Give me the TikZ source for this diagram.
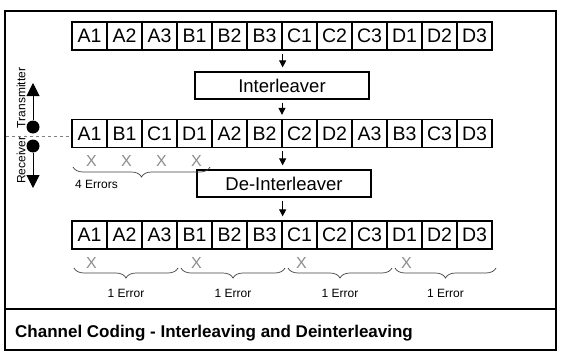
\documentclass[tikz,border=0pt]{standalone}
\usepackage{fontspec}
\setmainfont{Liberation Sans}
\usetikzlibrary{arrows.meta,decorations.pathreplacing,calc}
\begin{document}
\begin{tikzpicture}[x=1pt,y=-1pt,
 cell/.style={draw,line width=1.3pt,minimum width=35pt,minimum height=28pt,inner sep=0pt,font=\fontsize{19.5}{20}\selectfont},
 proc/.style={draw,line width=1.3pt,minimum width=174pt,minimum height=27pt,inner sep=0pt,font=\fontsize{18.5}{20}\selectfont},
 flow/.style={line width=1pt,-{Triangle[width=7pt,length=7pt]},shorten <=3pt,shorten >=4pt},
 bigarrow/.style={line width=1pt,-{Triangle[width=13pt,length=13pt]}},
 dot/.style={circle,fill,inner sep=0pt,minimum size=13pt},
 errmark/.style={text=black!45,font=\fontsize{16}{16}\selectfont,inner sep=0pt},
 brc/.style={decorate,decoration={brace,mirror,amplitude=10pt},line width=0.7pt,draw=black!75},
 errlabel/.style={font=\fontsize{12}{13}\selectfont,inner sep=0pt},
 side/.style={font=\fontsize{12}{13}\selectfont,rotate=90,inner sep=0pt}]
\useasboundingbox (0,0) rectangle (564,353);
% frame
\draw[line width=1.3pt] (5,11) rectangle (556,350);
\draw[line width=1.3pt] (5,309) -- (556,309);
\node[anchor=west,font=\bfseries\fontsize{17}{20}\selectfont,inner sep=0pt] (cap) at (15,333) {Channel Coding - Interleaving and Deinterleaving};
% rows
\foreach \t [count=\i] in {A1,A2,A3,B1,B2,B3,C1,C2,C3,D1,D2,D3}
  \node[cell] (r1-\i) at ({72+35*(\i-0.5)},36) {\t};
\foreach \t [count=\i] in {A1,B1,C1,D1,A2,B2,C2,D2,A3,B3,C3,D3}
  \node[cell] (r2-\i) at ({72+35*(\i-0.5)},133.5) {\t};
\foreach \t [count=\i] in {A1,A2,A3,B1,B2,B3,C1,C2,C3,D1,D2,D3}
  \node[cell] (r3-\i) at ({72+35*(\i-0.5)},235) {\t};
% processing boxes
\node[proc] (il) at (282,85.5) {Interleaver};
\node[proc] (deil) at (284,183.5) {De-Interleaver};
% flow arrows
\draw[flow] (r1-6.south east) -- (r1-6.south east |- il.north);
\draw[flow] (il.south) -- (il.south |- r2-6.north);
\draw[flow] (r2-6.south east) -- (r2-6.south east |- deil.north);
\draw[flow] (deil.south -| r3-6.south east) -- (r3-6.north east);
% transmitter / receiver
\node[dot] (tx) at (33,127) {};
\node[dot] (rx) at (33,146) {};
\coordinate (txend) at (33,83);
\coordinate (rxend) at (33,188);
\draw[bigarrow] (tx) -- (txend);
\draw[bigarrow] (rx) -- (rxend);
\node[side] (txl) at (21,98) {Transmitter};
\node[side] (rxl) at (21,160) {Receiver};
\coordinate (dl) at (6,136);
\draw[dashed,black!50,line width=0.5pt] (dl) -- (dl -| r2-1.west);
% errors after channel
\foreach \i in {1,2,3,4}
  \node[errmark] (e2-\i) at ([xshift=2pt,yshift=-13pt]r2-\i.south) {X};
\coordinate (b2s) at (73,167);
\coordinate (b2e) at (210,167);
\draw[brc] (b2s) -- (b2e);
\node[errlabel,anchor=west] (l2) at (75,184) {4 Errors};
% errors after de-interleaving
\foreach \i in {1,4,7,10}
  \node[errmark] (e3-\i) at ([xshift=2pt,yshift=-13pt]r3-\i.south) {X};
\coordinate (b1s) at (74,268);  \coordinate (b1e) at (178,268);
\coordinate (b2s) at (181,268); \coordinate (b2e) at (285,268);
\coordinate (b3s) at (288,268); \coordinate (b3e) at (392,268);
\coordinate (b4s) at (395,268); \coordinate (b4e) at (496,268);
\foreach \k in {1,2,3,4}{
  \draw[brc] (b\k s) -- (b\k e);
  \node[errlabel] (l3-\k) at ($(b\k s)!0.5!(b\k e)+(0,25)$) {1 Error};
}
\end{tikzpicture}
\end{document}
